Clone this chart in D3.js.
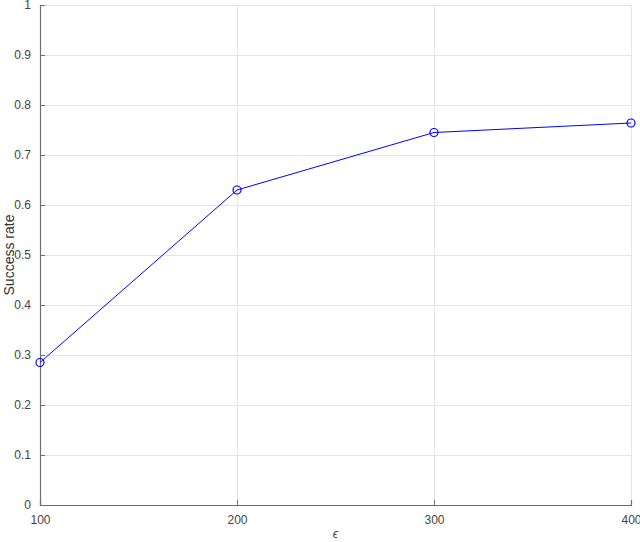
<!DOCTYPE html>
<html><head><meta charset="utf-8">
<script src="https://cdn.jsdelivr.net/npm/d3@7"></script>
<style>body{margin:0;background:#fff;} text{font-family:"Liberation Sans",Arial,sans-serif;}</style>
</head><body>
<svg id="c" width="640" height="542"></svg>
<script>
const epsilons = [100, 200, 300, 400];
const successRate = [0.285, 0.630, 0.745, 0.764];
const xTicks = [100, 200, 300, 400];
const yTicks = [0, 0.1, 0.2, 0.3, 0.4, 0.5, 0.6, 0.7, 0.8, 0.9, 1];

const svg = d3.select("#c");
const L = 40, R = 631, T = 5, B = 505;
const x = d3.scaleLinear().domain([100, 400]).range([L, R]);
const y = d3.scaleLinear().domain([0, 1]).range([B, T]);

// grid
svg.append("g").selectAll("line").data(xTicks).join("line")
  .attr("x1", d => x(d)).attr("x2", d => x(d)).attr("y1", T).attr("y2", B)
  .attr("stroke", "#e5e5e5").attr("stroke-width", 1).attr("shape-rendering","crispEdges");
svg.append("g").selectAll("line").data(yTicks).join("line")
  .attr("y1", d => y(d)).attr("y2", d => y(d)).attr("x1", L).attr("x2", R)
  .attr("stroke", "#e5e5e5").attr("stroke-width", 1).attr("shape-rendering","crispEdges");

// axes
const xa = svg.append("g").attr("transform", `translate(0,${B})`)
  .call(d3.axisBottom(x).tickValues(xTicks).tickSize(-5).tickPadding(10).tickFormat(d3.format("d")));
const ya = svg.append("g").attr("transform", `translate(${L},0)`)
  .call(d3.axisLeft(y).tickValues(yTicks).tickSize(-5).tickPadding(9).tickFormat(d => d === 0 ? "0" : d === 1 ? "1" : d3.format(".1f")(d)));
[xa, ya].forEach(a => {
  a.select(".domain").attr("stroke", "#6e6e6e").attr("stroke-width", 1.2);
  a.selectAll(".tick line").attr("stroke", "#6e6e6e");
  a.selectAll(".tick text").attr("fill", "#444").style("font-size", "12px").style("font-family", '"Liberation Sans",Arial,sans-serif');
});

// labels
svg.append("text").attr("transform", `translate(14,${(T + B) / 2}) rotate(-90)`)
  .attr("text-anchor", "middle").attr("fill", "#333").style("font-size", "14px").text("Success rate");
svg.append("text").attr("x", (L + R) / 2).attr("y", 538).attr("text-anchor", "middle")
  .attr("fill", "#444").style("font-size", "12px").style("font-style","italic").text("ϵ");

// line
const pts = epsilons.map((e, i) => [e, successRate[i]]);
svg.append("path").datum(pts)
  .attr("d", d3.line().x(d => x(d[0])).y(d => y(d[1])))
  .attr("fill", "none").attr("stroke", "#0000ff").attr("stroke-width", 1);
svg.append("g").selectAll("circle").data(pts).join("circle")
  .attr("cx", d => x(d[0])).attr("cy", d => y(d[1])).attr("r", 4)
  .attr("fill", "none").attr("stroke", "#0000ff").attr("stroke-width", 1.2);
</script>
</body></html>
